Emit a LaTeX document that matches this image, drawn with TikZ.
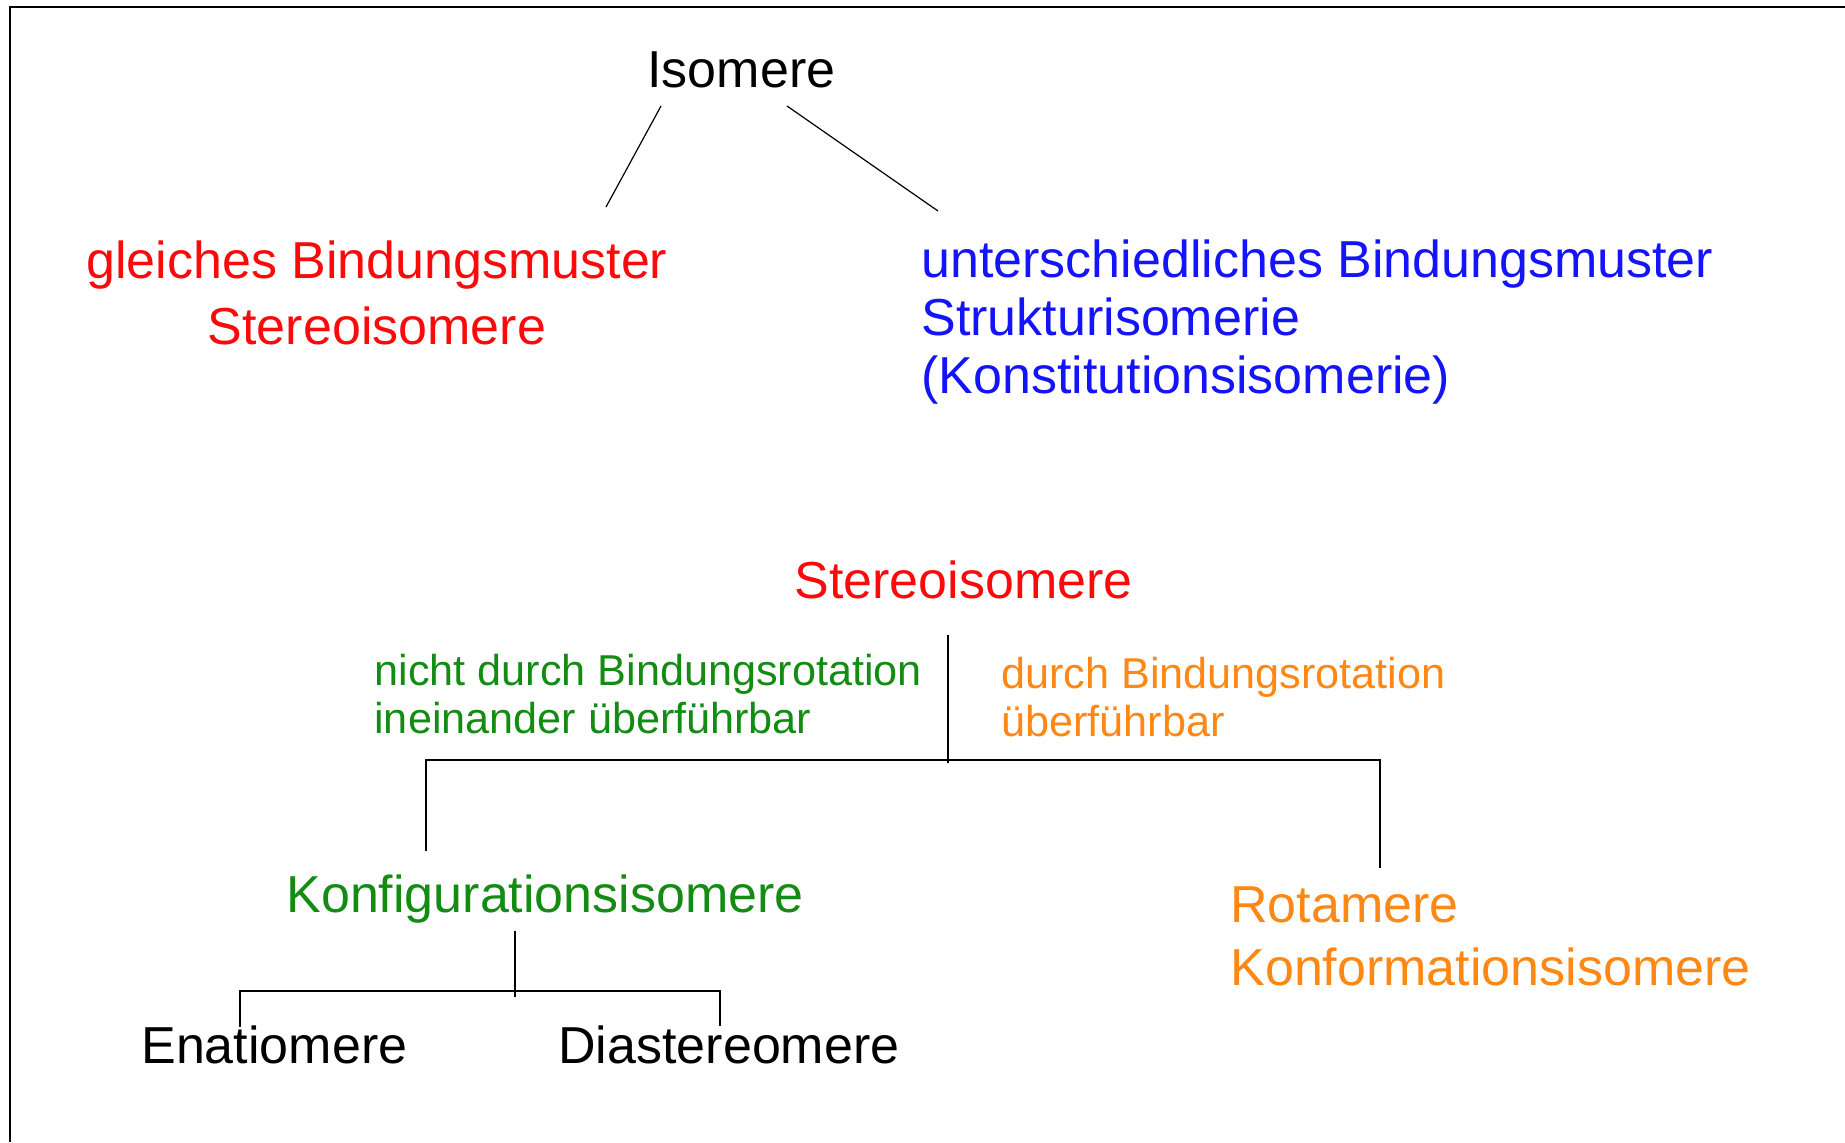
\documentclass[tikz,border=0pt]{standalone}
\usepackage{fontspec}
\setmainfont{Liberation Sans}
\usetikzlibrary{calc}
\definecolor{Red}{RGB}{250,10,10}
\definecolor{Blue}{RGB}{20,20,250}
\definecolor{Green}{RGB}{20,140,20}
\definecolor{Orange}{RGB}{255,135,20}
\newcommand\bigfont[1]{\fontsize{26}{#1}\selectfont}
\newcommand\smallfont{\fontsize{21.6}{24}\selectfont}

\begin{document}
\begin{tikzpicture}[
  x={(0.5pt,0pt)},
  y={(0pt,-0.5pt)},
  every node/.style={inner sep=0pt, anchor=base west},
  big/.style={font=\bigfont{31}},
  note/.style={font=\smallfont, align=left},
  branch/.style={line width=0.6pt}
  ]
\useasboundingbox (0,0) rectangle (1845,1142);
\draw[line width=1.1pt] (10,1142) |- (1845,7);
\draw
  (647,87) node[big] (isomere) {Isomere}
  (86,344) node[big, Red, align=center, font=\bigfont{33}] (gleich)
    {gleiches Bindungsmuster\\Stereoisomere}
  (921,393) node[big, Blue, align=left, font=\bigfont{28.8}] (struktur)
    {unterschiedliches Bindungsmuster\\Strukturisomerie\\(Konstitutionsisomerie)}
  (794,598) node[big, Red] (stereo) {Stereoisomere}
  (374,733) node[note, Green] (nicht) {nicht durch Bindungsrotation\\ineinander überführbar}
  (1001,736) node[note, Orange] (durch) {durch Bindungsrotation\\überführbar}
  (286,912) node[big, Green] (konfig) {Konfigurationsisomere}
  (1230,985) node[big, Orange, align=left, font=\bigfont{31.5}] (rotamere)
    {Rotamere\\Konformationsisomere}
  (141,1063) node[big] (enatio) {Enatiomere}
  (558,1063) node[big] (dia) {Diastereomere}
  ;
% Isomere
\draw[branch] ($(isomere.base west)+(14,19)$) -- ($(gleich.base west)+(520,-137)$);
\draw[branch] ($(isomere.base west)+(140,19)$) -- ($(struktur.base west)+(17,-182)$);
% Stereoisomere
\coordinate (fork) at ($(stereo.base west)+(154,162)$);
\draw[branch] ($(stereo.base west)+(154,37)$) -- ++(0,128);
\draw[branch] ($(konfig.base west)+(140,-61)$) |- (fork) -| ($(rotamere.base west)+(150,-117)$);
% Konfigurationsisomere
\coordinate (split) at ($(konfig.base west)+(229,79)$);
\draw[branch] ($(konfig.base west)+(229,19)$) -- ++(0,66);
\draw[branch] ($(enatio.base west)+(99,-36)$) |- (split) -| ($(dia.base west)+(162,-37)$);
\end{tikzpicture}
\end{document}
